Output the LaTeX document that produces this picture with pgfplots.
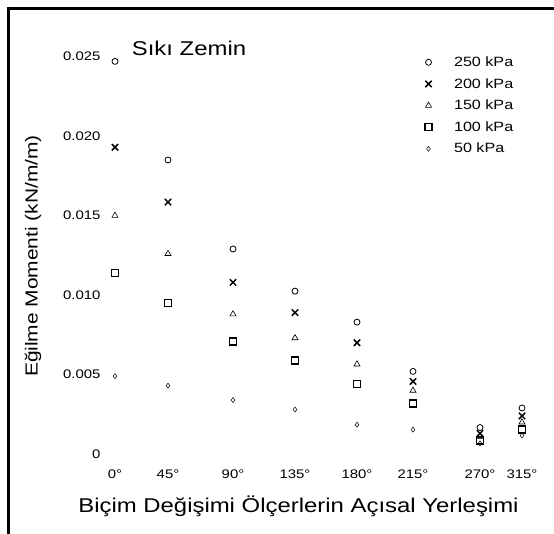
\documentclass[border=0pt]{standalone}
\usepackage{pgfplots}
\pgfplotsset{compat=1.18}
\usepackage{fontspec}
\setmainfont{Liberation Sans}[FakeStretch=1.2]

\begin{document}
\begin{tikzpicture}
\path[use as bounding box] (0,0) rectangle (554bp,534bp);
\draw[line width=2.5bp] (8.5bp,0) -- (8.5bp,525.5bp) -- (554bp,525.5bp);
\begin{axis}[
 at={(104bp,64bp)}, anchor=south west,
 scale only axis, width=436bp, height=429.3bp,
 xmin=104, xmax=540, ymin=-0.001, ymax=0.026,
 axis line style={draw=none},
 major tick length=0pt,
 scaled y ticks=false,
 xtick={115,168,233,295,357,413,480,522},
 xticklabels={0°,45°,90°,135°,180°,215°,270°,315°},
 ytick={0,0.005,0.010,0.015,0.020,0.025},
 yticklabels={0,0.005,0.010,0.015,0.020,0.025},
 tick label style={font=\fontsize{12.5}{14}\selectfont},
 xticklabel style={yshift=4bp},
 title={Sıkı Zemin},
 title style={at={(axis description cs:0.195,0.968)}, anchor=center, font=\fontsize{20}{24}\selectfont},
 xlabel={Biçim Değişimi Ölçerlerin Açısal Yerleşimi},
 xlabel style={at={(axis description cs:0.446,-0.084)}, anchor=center, font=\fontsize{20}{24}\selectfont},
 ylabel={Eğilme Momenti (kN/m/m)},
 ylabel style={at={(axis description cs:-0.163,0.4985)}, anchor=center, font=\fontsize{17.5}{20}\selectfont},
 legend style={draw=none, fill=none, at={(axis description cs:0.729,0.9725)}, anchor=north west, font=\fontsize{13.5}{16}\selectfont, row sep=6.4bp, column sep=20bp},
 legend cell align=left,
 clip=false,
]
\addplot[only marks, mark=o, mark size=3bp, line width=0.8bp, black] coordinates {
 (115,0.0247) (168,0.0185) (233,0.0129) (295,0.01025) (357,0.0083) (413,0.0052) (480,0.00167) (522,0.0029)};
\addlegendentry{250 kPa}
\addplot[only marks, mark=x, mark size=4.5bp, line width=1.5bp, black] coordinates {
 (115,0.0193) (168,0.01585) (233,0.0108) (295,0.0089) (357,0.0070) (413,0.00457) (480,0.0013) (522,0.0024)};
\addlegendentry{200 kPa}
\addplot[only marks, mark=triangle, mark size=3.5bp, line width=0.6bp, black] coordinates {
 (115,0.0150) (168,0.0126) (233,0.0088) (295,0.0073) (357,0.00565) (413,0.0040) (480,0.0011) (522,0.0020)};
\addlegendentry{150 kPa}
\addplot[only marks, mark=square, mark size=3.5bp, line width=1.6bp, black] coordinates {
 (115,0.0114) (168,0.0095) (233,0.0071) (295,0.0059) (357,0.0044) (413,0.0032) (480,0.00086) (522,0.00154)};
\addlegendentry{100 kPa}
\addplot[only marks, mark=diamond, mark size=2.5bp, line width=0.5bp, black] coordinates {
 (115,0.0049) (168,0.0043) (233,0.0034) (295,0.0028) (357,0.00185) (413,0.00154) (480,0.00068) (522,0.00117)};
\addlegendentry{50 kPa}
\end{axis}
\end{tikzpicture}
\end{document}
